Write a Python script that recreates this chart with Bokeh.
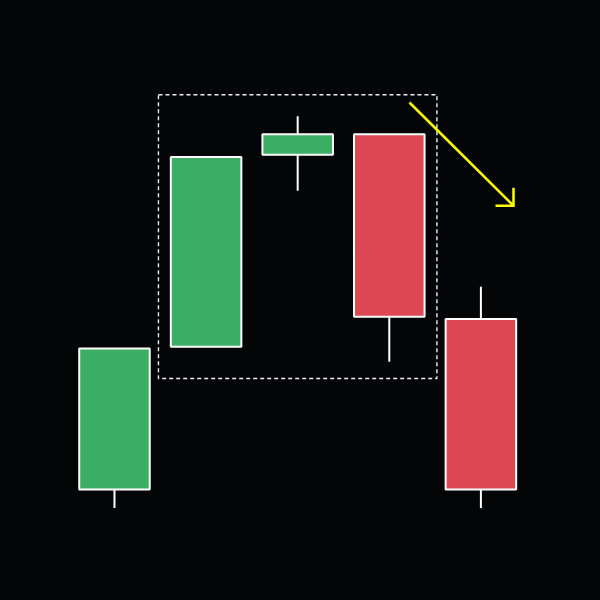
from bokeh.plotting import figure
from bokeh.embed import file_html
from bokeh.resources import INLINE
from bokeh.models import Range1d, ColumnDataSource

# Candle data (arbitrary price units)
idx = [0, 1, 2, 3, 4]
opens = [18.5, 42.3, 74.3, 77.7, 46.9]
closes = [42.0, 73.9, 77.7, 47.3, 18.5]
highs = [42.0, 73.9, 80.7, 77.7, 52.3]
lows = [15.4, 42.3, 68.3, 39.8, 15.4]

# Highlight box (index / price)
box_left, box_right = 0.48, 3.52
box_bottom, box_top = 37.0, 84.3

# Arrow (index / price)
arrow_start = (3.22, 83.0)
arrow_end = (4.356, 65.8)

BG = "#040507"
GREEN = "#3cae63"
RED = "#dc4753"
W, H = 584, 584
X0, X1 = -1.2443, 5.131
Y0, Y1 = 2.667, 100.0

p = figure(width=W, height=H, output_backend="svg", toolbar_location=None,
           x_range=Range1d(X0, X1), y_range=Range1d(Y0, Y1), min_border=0)
p.background_fill_color = BG
p.border_fill_color = BG
p.outline_line_color = None
p.axis.visible = False
p.grid.visible = False

colors = [GREEN if c >= o else RED for o, c in zip(opens, closes)]
tops = [max(o, c) for o, c in zip(opens, closes)]
bots = [min(o, c) for o, c in zip(opens, closes)]
src = ColumnDataSource(dict(x=idx, top=tops, bottom=bots, high=highs, low=lows, color=colors))

p.segment(x0="x", y0="low", x1="x", y1="high", source=src, line_color="white", line_width=2)
p.vbar(x="x", width=0.77, top="top", bottom="bottom", source=src,
       fill_color="color", line_color="white", line_width=2)

# dashed box
p.line(x=[box_left, box_right, box_right, box_left, box_left],
       y=[box_top, box_top, box_bottom, box_bottom, box_top],
       line_color="#f0f0f0", line_width=1.4, line_dash="4 3")

# arrow with right-angle open head
px_per_x = W / (X1 - X0)
px_per_y = H / (Y1 - Y0)
head_px = 18
hx = head_px / px_per_x
hy = head_px / px_per_y
ex, ey = arrow_end
p.line(x=[arrow_start[0], ex], y=[arrow_start[1], ey], line_color="#ffff00", line_width=2.5)
p.line(x=[ex - hx, ex, ex], y=[ey, ey, ey + hy], line_color="#ffff00", line_width=2.5,
       line_join="miter")

html = file_html(p, INLINE)
html = html.replace("<head>", "<head><style>html,body{background:%s;}</style>" % BG, 1)
open("out.html", "w").write(html)
